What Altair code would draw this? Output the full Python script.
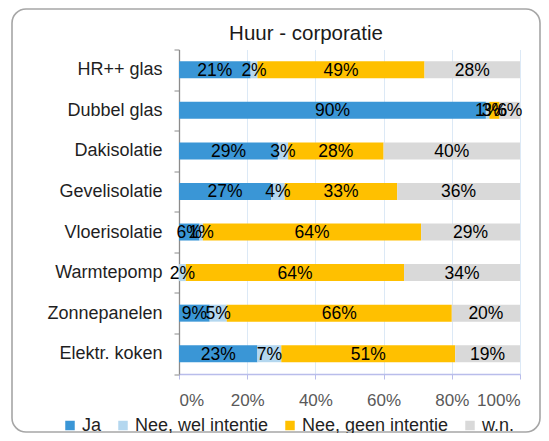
import altair as alt
import pandas as pd

title_text = "Huur - corporatie"
categories = ["HR++ glas", "Dubbel glas", "Dakisolatie", "Gevelisolatie",
              "Vloerisolatie", "Warmtepomp", "Zonnepanelen", "Elektr. koken"]
series = ["Ja", "Nee, wel intentie", "Nee, geen intentie", "w.n."]
ja = [21, 90, 29, 27, 6, 0, 9, 23]
wel_intentie = [2, 1, 3, 4, 1, 2, 5, 7]
geen_intentie = [49, 3, 28, 33, 64, 64, 66, 51]
wn = [28, 6, 40, 36, 29, 34, 20, 19]
colors = ["#3A96D6", "#B4D7EF", "#FFC000", "#D9D9D9"]
x_ticks = [0, 20, 40, 60, 80, 100]

rows = []
for s_idx, (name, vals) in enumerate(zip(series, [ja, wel_intentie, geen_intentie, wn])):
    for cat, v in zip(categories, vals):
        rows.append({"cat": cat, "series": name, "s_idx": s_idx, "value": v})
df = pd.DataFrame(rows)

FONT = "Liberation Sans"

base = alt.Chart(df).transform_stack(
    stack="value", groupby=["cat"], as_=["start", "end"],
    sort=[alt.SortField("s_idx", order="ascending")]
).transform_calculate(
    mid="(datum.start + datum.end) / 2",
    label="datum.value + '%'"
)

yenc = alt.Y("cat:N", sort=categories, title=None,
             scale=alt.Scale(paddingInner=0, paddingOuter=0),
             axis=alt.Axis(domainColor="#8C8C8C", tickColor="#8C8C8C", tickSize=5,
                           tickBand="extent", labelFontSize=18, labelColor="#1F1F1F",
                           labelPadding=12, labelFont=FONT, grid=False, domainWidth=1.3))

bars = base.mark_bar(size=17).encode(
    y=yenc,
    x=alt.X("start:Q", scale=alt.Scale(domain=[0, 100], nice=False), title=None,
            axis=alt.Axis(values=x_ticks, labelExpr="datum.value + '%'",
                          grid=True, gridColor="#DCE9F6", gridWidth=1,
                          domainColor="#B9BDEB", tickColor="#B9BDEB", tickSize=5,
                          domainWidth=1.5, labelFontSize=17, labelColor="#595959",
                          labelPadding=13, labelFont=FONT)),
    x2="end:Q",
    color=alt.Color("series:N", scale=alt.Scale(domain=series, range=colors),
                    legend=alt.Legend(orient="none", direction="horizontal", title=None,
                                      legendX=-118, legendY=367, symbolType="square",
                                      symbolSize=90, symbolStrokeWidth=0,
                                      labelFontSize=18, labelFont=FONT,
                                      labelColor="#1F1F1F", columnPadding=12,
                                      labelOffset=3))
)

texts = base.transform_filter("datum.value > 0").mark_text(
    fontSize=17.5, font=FONT, color="#000000", baseline="middle", align="center", dy=1
).encode(
    y=alt.Y("cat:N", sort=categories),
    x=alt.X("mid:Q"),
    text="label:N"
)

one_row = "datum.s_idx == 0 && datum.cat == 'HR++ glas'"

frame = alt.Chart(df).mark_rect(
    fillOpacity=0, stroke="#A6A6A6", strokeWidth=1.6, cornerRadius=14
).encode(
    x=alt.value(-167), x2=alt.value(361), y=alt.value(-40.5), y2=alt.value(382.5)
).transform_filter(one_row)

title = alt.Chart(df).transform_filter(one_row).transform_calculate(
    t="'" + title_text + "'"
).mark_text(
    fontSize=20.5, font=FONT, color="#1A1A1A", align="center", baseline="alphabetic"
).encode(
    x=alt.value(127), y=alt.value(-10), text="t:N"
)

chart = alt.layer(frame, bars, texts, title).properties(
    width=341, height=324.5,
    autosize=alt.AutoSizeParams(type="none"),
    padding={"left": 171, "top": 41.5, "right": 21, "bottom": 59}
).configure_view(stroke=None)

chart.save("out.html", embed_options={"renderer": "svg", "actions": False})
